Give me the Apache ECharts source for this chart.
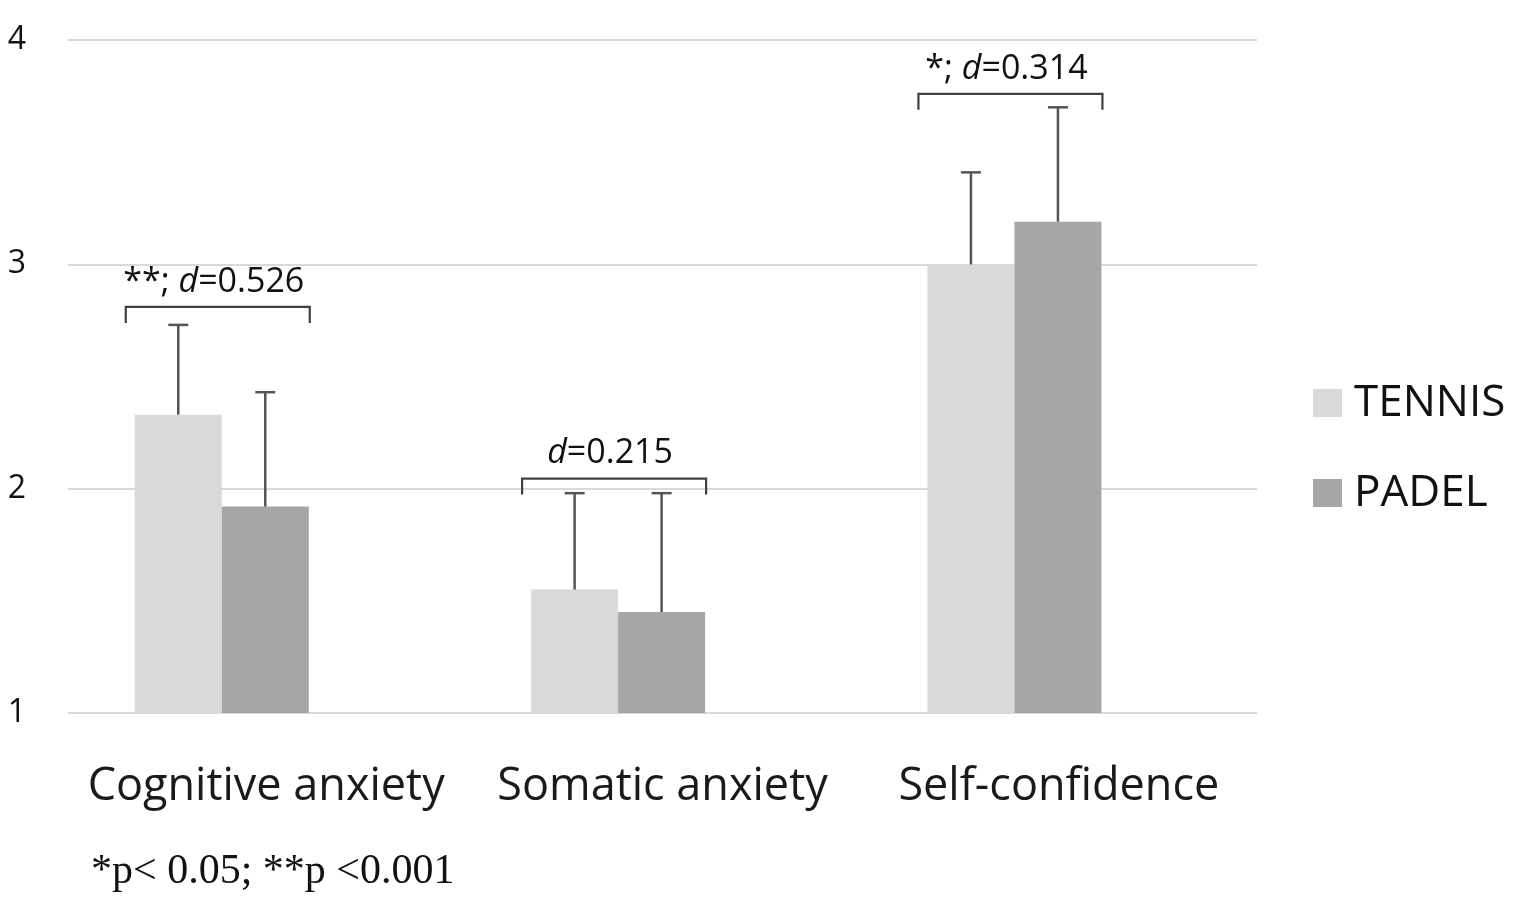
<!DOCTYPE html>
<html>
<head>
<meta charset="utf-8">
<script src="https://cdn.jsdelivr.net/npm/echarts@6/dist/echarts.min.js"></script>
<style>
html,body{margin:0;padding:0;background:#fff;}
#chart{width:1535px;height:916px;}
</style>
</head>
<body>
<div id="chart"></div>
<script>
const categories = ['Cognitive anxiety', 'Somatic anxiety', 'Self-confidence'];
const seriesNames = ['TENNIS', 'PADEL'];
const tennisMean = [2.33, 1.55, 3.00];
const tennisSD   = [0.40, 0.43, 0.41];
const padelMean  = [1.92, 1.45, 3.19];
const padelSD    = [0.51, 0.53, 0.51];
const bracketTop = [2.81, 2.045, 3.76];
const bracketStars = ['**; ', '', '*; '];
const bracketD = ['0.526', '0.215', '0.314'];
const yTicks = [1, 2, 3, 4];

const FONT = '"Open Sans", sans-serif';
const BAR_W = 87;
const OFFSET = 0.388;

const chart = echarts.init(document.getElementById('chart'));

function barData(mean) { return mean.map((v, i) => [i, v]); }
function errData(mean, sd, side) { return mean.map((v, i) => [i, v, v + sd[i], side]); }

function errorRender(params, api) {
  const x = api.value(0), m = api.value(1), top = api.value(2), side = api.value(3);
  const p0 = api.coord([x, m]);
  const p1 = api.coord([x, top]);
  const cx = p0[0] + side * BAR_W / 2;
  const st = { stroke: '#555555', lineWidth: 2.5 };
  return {
    type: 'group',
    children: [
      { type: 'line', shape: { x1: cx, y1: p0[1], x2: cx, y2: p1[1] }, style: st },
      { type: 'line', shape: { x1: cx - 10, y1: p1[1], x2: cx + 10, y2: p1[1] }, style: st }
    ]
  };
}

function bracketRender(params, api) {
  const i = params.dataIndex;
  const p = api.coord([api.value(0), api.value(1)]);
  const cx = p[0] - 4, y = p[1], hw = 92, leg = 16;
  return {
    type: 'group',
    children: [
      { type: 'polyline', shape: { points: [[cx - hw, y + leg], [cx - hw, y], [cx + hw, y], [cx + hw, y + leg]] },
        style: { stroke: '#404040', lineWidth: 2.2, fill: null } },
      { type: 'text', x: cx - 4, y: y - 25,
        style: {
          text: bracketStars[i] + '{i|d}=' + bracketD[i],
          rich: { i: { fontStyle: 'italic', fontSize: 34, fontFamily: FONT, fill: '#111' } },
          font: '34px ' + FONT, fill: '#111', align: 'center', verticalAlign: 'middle'
        } }
    ]
  };
}

chart.setOption({
  animation: false,
  backgroundColor: '#fff',
  grid: { left: 68, right: 278, top: 40, bottom: 203 },
  legend: {
    orient: 'vertical', left: 1313, top: 381, padding: 0,
    itemWidth: 29, itemHeight: 28, itemGap: 46, icon: 'rect',
    data: seriesNames,
    textStyle: { fontSize: 44, fontFamily: FONT, color: '#111', padding: [0, 0, 0, 7] }
  },
  xAxis: [
    {
      type: 'category', data: categories, boundaryGap: true,
      axisLine: { show: false }, axisTick: { show: false },
      axisLabel: { interval: 0, fontSize: 45, fontFamily: FONT, color: '#1a1a1a', margin: 52 }
    },
    {
      type: 'value', min: -OFFSET, max: 3 - OFFSET, show: false
    }
  ],
  yAxis: {
    type: 'value', min: yTicks[0], max: yTicks[yTicks.length - 1], interval: 1,
    axisLine: { show: false }, axisTick: { show: false },
    axisLabel: { fontSize: 32, fontFamily: FONT, color: '#111', margin: 42 },
    splitLine: { show: true, lineStyle: { color: '#d9d9d9', width: 2 } }
  },
  series: [
    { name: seriesNames[0], type: 'bar', xAxisIndex: 1, data: barData(tennisMean),
      barWidth: BAR_W, barGap: '0%', itemStyle: { color: '#d9d9d9' } },
    { name: seriesNames[1], type: 'bar', xAxisIndex: 1, data: barData(padelMean),
      barWidth: BAR_W, barGap: '0%', itemStyle: { color: '#a6a6a6' } },
    { type: 'custom', xAxisIndex: 1, renderItem: errorRender, data: errData(tennisMean, tennisSD, -1), z: 5, silent: true },
    { type: 'custom', xAxisIndex: 1, renderItem: errorRender, data: errData(padelMean, padelSD, 1), z: 5, silent: true },
    { type: 'custom', xAxisIndex: 1, renderItem: bracketRender, data: bracketTop.map((v, i) => [i, v]), z: 6, silent: true }
  ],
  graphic: [
    { type: 'text', left: 91, top: 851,
      style: { text: '*p< 0.05; **p <0.001', font: '42px "Liberation Serif", serif', fill: '#111' } }
  ]
});
</script>
</body>
</html>
